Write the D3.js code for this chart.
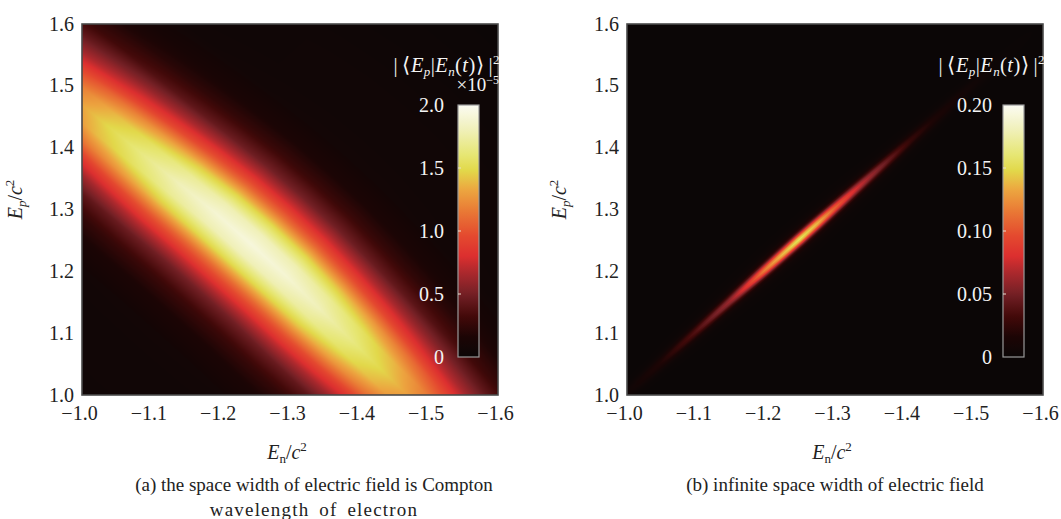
<!DOCTYPE html>
<html><head><meta charset="utf-8">
<script src="https://cdn.jsdelivr.net/npm/d3@7"></script>
<style>
html,body{margin:0;padding:0;background:#fff;}
svg text{font-family:"Liberation Serif","Times New Roman",serif;}
</style></head>
<body>
<svg id="chart" width="1061" height="519"></svg>
<script>
// ---------- data ----------
const xTicks = [-1.0,-1.1,-1.2,-1.3,-1.4,-1.5,-1.6];
const yTicks = [1.0,1.1,1.2,1.3,1.4,1.5,1.6];

// colour map (fraction of colour-bar range -> colour)
const cmapPos = [0,0.08,0.16,0.25,0.33,0.40,0.48,0.58,0.66,0.74,0.80,0.90,1.0];
const cmapCol = ["#0b0606","#1c0505","#420909","#742025","#a8282d","#dc2f2f","#e4492f","#e97a35","#eca43f","#e2d84a","#e6e672","#f0f0b8","#fbfbf3"];

// panel (a): band along Ep - En = ridge, profile along u = Ep + En and across
const leftAlongU   = [-0.7,-0.6,-0.5,-0.4,-0.3,-0.2,-0.1,0,0.1,0.2,0.3,0.4,0.5,0.6,0.7];
const leftAlongAmp = [0.42,0.52,0.64,0.76,0.86,0.94,0.985,1,0.985,0.94,0.86,0.77,0.65,0.53,0.43];
const leftRidgeW   = [2.462,2.465,2.468,2.472,2.477,2.482,2.487,2.488,2.487,2.482,2.477,2.472,2.468,2.465,2.462];
const leftAcrossDw  = [0,0.03,0.06,0.09,0.12,0.15,0.19,0.23,0.28,0.34,0.42,0.5,0.7,1.0];
const leftAcrossVal = [1,0.94,0.78,0.57,0.4,0.26,0.15,0.08,0.04,0.03,0.03,0.02,0.005,0];
const leftPeak = 1.92;           // x 1e-5
const leftBarTicks = [0,0.5,1.0,1.5,2.0];

// panel (b): narrow streak along Ep = -En
const rightAlongEp  = [0.98,1.0,1.05,1.1,1.15,1.175,1.2,1.225,1.25,1.275,1.3,1.325,1.35,1.38,1.41,1.45,1.5,1.55,1.6];
const rightAlongAmp = [0,0.03,0.11,0.24,0.4,0.56,0.76,0.9,1,0.9,0.7,0.54,0.41,0.28,0.17,0.09,0.04,0.01,0];
const rightAcrossDu  = [0,0.004,0.008,0.012,0.016,0.02,0.026,0.035,0.05];
const rightAcrossVal = [1,0.88,0.6,0.33,0.16,0.08,0.03,0.01,0];
const rightRidgeU = 0.003;
const rightPeak = 0.156;
const rightBarTicks = [0,0.05,0.10,0.15,0.20];

// ---------- drawing ----------
const svg = d3.select("#chart");
const PW = 416, PH = 371, TOP = 24;
const cmap = d3.scaleLinear().domain(cmapPos).range(cmapCol).interpolate(d3.interpolateRgb).clamp(true);

function heatImage(x, y, valueFn, vmax) {
  const cv = document.createElement("canvas");
  cv.width = PW; cv.height = PH;
  const ctx = cv.getContext("2d");
  const img = ctx.createImageData(PW, PH);
  for (let py = 0; py < PH; py++) {
    const Ep = y.invert(py + 0.5);
    for (let px = 0; px < PW; px++) {
      const En = x.invert(px + 0.5);
      const c = d3.rgb(cmap(valueFn(En, Ep) / vmax));
      const i = (py * PW + px) * 4;
      img.data[i] = c.r; img.data[i+1] = c.g; img.data[i+2] = c.b; img.data[i+3] = 255;
    }
  }
  ctx.putImageData(img, 0, 0);
  return cv.toDataURL();
}

function panel(opt) {
  const g = svg.append("g").attr("transform", `translate(${opt.x0},${TOP})`);
  const x = d3.scaleLinear().domain([-1.0, -1.6]).range([0, PW]);
  const y = d3.scaleLinear().domain([1.0, 1.6]).range([PH, 0]);
  g.append("image").attr("x", 0).attr("y", 0).attr("width", PW).attr("height", PH)
    .attr("preserveAspectRatio", "none")
    .attr("href", heatImage(x, y, opt.valueFn, opt.vmax));
  g.append("rect").attr("width", PW).attr("height", PH)
    .attr("fill", "none").attr("stroke", "#4a4a4a").attr("stroke-width", 1.6);

  const xa = g.append("g").attr("transform", `translate(0,${PH})`)
    .call(d3.axisBottom(x).tickValues(xTicks).tickSize(0).tickPadding(11).tickFormat(d3.format(".1f")));
  xa.select(".domain").remove();
  xa.selectAll("text").attr("font-size", 20).attr("fill", "#222").attr("dx", -3)
    .style("font-family", "Liberation Serif");
  const ya = g.append("g")
    .call(d3.axisLeft(y).tickValues(yTicks).tickSize(0).tickPadding(8).tickFormat(d3.format(".1f")));
  ya.select(".domain").remove();
  ya.selectAll("text").attr("font-size", 20).attr("fill", "#222").attr("dy", "0.3em")
    .style("font-family", "Liberation Serif");

  // axis titles
  const xt = g.append("text").attr("x", PW / 2 - 3).attr("y", PH + 64)
    .attr("text-anchor", "middle").attr("font-size", 20).attr("fill", "#222");
  xt.append("tspan").attr("font-style", "italic").text("E");
  xt.append("tspan").attr("font-size", 13).attr("dy", 4).text("n");
  xt.append("tspan").attr("dy", -4).text("/");
  xt.append("tspan").attr("font-style", "italic").text("c");
  xt.append("tspan").attr("font-size", 13).attr("dy", -8).text("2");

  const yt = g.append("text").attr("transform", `translate(${opt.ylabX},${PH / 2 - 10}) rotate(-90)`)
    .attr("text-anchor", "middle").attr("font-size", 20).attr("fill", "#222");
  yt.append("tspan").attr("font-style", "italic").text("E");
  yt.append("tspan").attr("font-size", 13).attr("font-style", "italic").attr("dy", 4).text("p");
  yt.append("tspan").attr("dy", -4).text("/");
  yt.append("tspan").attr("font-style", "italic").text("c");
  yt.append("tspan").attr("font-size", 13).attr("dy", -8).text("2");

  // caption
  opt.caption.forEach((line, i) => {
    const t = g.append("text").attr("x", opt.capX).attr("y", PH + 96 + i * 25)
      .attr("text-anchor", "middle").attr("font-size", 19).attr("fill", "#222").text(line);
    if (i > 0) t.attr("letter-spacing", 1.2).attr("word-spacing", 4);
  });

  // colour bar
  const cbX = opt.cbX, cbW = 21, cbTop = 81, cbBot = 333;
  const cs = d3.scaleLinear().domain([0, opt.barMax]).range([cbBot, cbTop]);
  const gid = "grad" + opt.id;
  const grad = svg.append("defs").append("linearGradient").attr("id", gid)
    .attr("x1", 0).attr("y1", 1).attr("x2", 0).attr("y2", 0);
  d3.range(0, 1.0001, 0.02).forEach(t => grad.append("stop").attr("offset", t).attr("stop-color", cmap(t)));
  g.append("rect").attr("x", cbX).attr("y", cbTop).attr("width", cbW).attr("height", cbBot - cbTop)
    .attr("fill", `url(#${gid})`).attr("stroke", "#9a9a9a").attr("stroke-width", 1.2);
  opt.barTicks.slice(1, -1).forEach(v => {
    g.append("line").attr("x1", cbX).attr("x2", cbX + 3).attr("y1", cs(v)).attr("y2", cs(v))
      .attr("stroke", "#e8e0d0").attr("stroke-width", 1);
  });
  const ca = g.append("g").attr("transform", `translate(${cbX - opt.labGap},0)`)
    .call(d3.axisLeft(cs).tickValues(opt.barTicks).tickSize(0).tickPadding(0).tickFormat(opt.barFmt));
  ca.select(".domain").remove();
  ca.selectAll("text").attr("font-size", 20).attr("fill", "#f4f4f4").style("font-family", "Liberation Serif");

  // colour bar title
  const tt = g.append("text").attr("x", PW + 2).attr("y", 48).attr("text-anchor", "end")
    .attr("font-size", 20.5).attr("letter-spacing", 0.4).attr("fill", "#f4f4f4");
  tt.append("tspan").text("|\u2009\u27E8");
  tt.append("tspan").attr("font-style", "italic").text("E");
  tt.append("tspan").attr("font-style", "italic").attr("font-size", 13).attr("dy", 4).text("p");
  tt.append("tspan").attr("dy", -4).text("|");
  tt.append("tspan").attr("font-style", "italic").text("E");
  tt.append("tspan").attr("font-style", "italic").attr("font-size", 13).attr("dy", 4).text("n");
  tt.append("tspan").attr("dy", -4).text("(");
  tt.append("tspan").attr("font-style", "italic").text("t");
  tt.append("tspan").text(")\u27E9\u2009|");
  tt.append("tspan").attr("font-size", 13).attr("dy", -8).text("2");

  if (opt.exponent) {
    const et = g.append("text").attr("x", PW + 1).attr("y", 67).attr("text-anchor", "end")
      .attr("font-size", 19).attr("fill", "#f4f4f4");
    et.append("tspan").text("\u00D710");
    et.append("tspan").attr("font-size", 12).attr("dy", -7).text("\u22125");
  }
}

panel({
  id: "a", x0: 82, ylabX: -60, capX: 232, cbX: 376, labGap: 14,
  caption: ["(a) the space width of electric field is Compton", "wavelength of electron"],
  vmax: 2.0, barMax: 2.0, barTicks: leftBarTicks, exponent: true,
  barFmt: d => d === 0 ? "0" : d3.format(".1f")(d),
  valueFn: (() => {
    const amp = d3.scaleLinear().domain(leftAlongU).range(leftAlongAmp).clamp(true);
    const ridge = d3.scaleLinear().domain(leftAlongU).range(leftRidgeW).clamp(true);
    const across = d3.scaleLinear().domain(leftAcrossDw).range(leftAcrossVal).clamp(true);
    return (En, Ep) => {
      const u = Ep + En, w = Ep - En;
      return leftPeak * amp(u) * across(Math.abs(w - ridge(u)));
    };
  })()
});

panel({
  id: "b", x0: 627, ylabX: -61, capX: 208, cbX: 376, labGap: 11,
  caption: ["(b) infinite space width of electric field"],
  vmax: 0.2, barMax: 0.2, barTicks: rightBarTicks, exponent: false,
  barFmt: d => d === 0 ? "0" : d3.format(".2f")(d),
  valueFn: (() => {
    const amp = d3.scaleLinear().domain(rightAlongEp).range(rightAlongAmp).clamp(true);
    const across = d3.scaleLinear().domain(rightAcrossDu).range(rightAcrossVal).clamp(true);
    return (En, Ep) => {
      const u = Ep + En, s = (Ep - En) / 2;
      return rightPeak * amp(s) * across(Math.abs(u - rightRidgeU));
    };
  })()
});
</script>
</body></html>
